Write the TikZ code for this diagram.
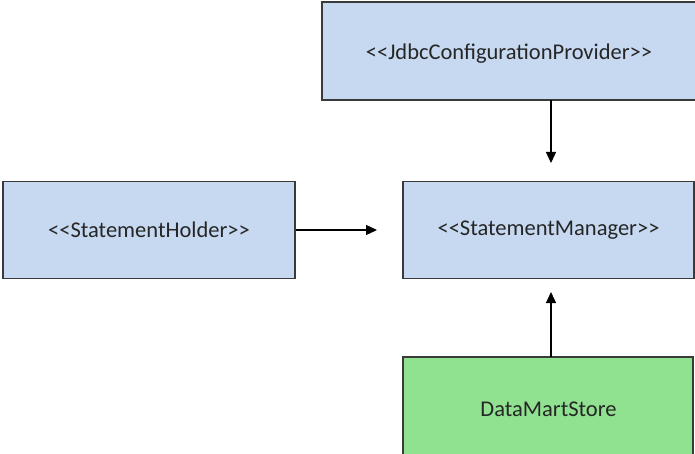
\documentclass[tikz,border=0pt]{standalone}
\usepackage{fontspec}
\setmainfont{Carlito}
\usetikzlibrary{arrows.meta}
\definecolor{boxblue}{HTML}{C6D9F0}
\definecolor{boxgreen}{HTML}{90E190}
\definecolor{edge}{HTML}{3A3A3A}
\begin{document}
\begin{tikzpicture}[x=1pt,y=-1pt,
  lbl/.style={font=\fontsize{22.5}{26}\selectfont,text=black!85},
  box/.style={draw=edge,line width=1.6pt,inner sep=0pt,lbl},
  conn/.style={line width=1.3pt,-{Triangle[length=11pt,width=10pt]}}]
\useasboundingbox (0,0) rectangle (695,454);
\clip (0,0) rectangle (695,454);
\draw[box,fill=boxblue] (322,2) rectangle (697,100);
\node[lbl] (jdbc) at (509,54) {<{}<JdbcConfigurationProvider>{}>};
\coordinate (jdbcb) at (551,100);
\node[box,fill=boxblue,minimum width=292pt,minimum height=97pt] (holder) at (149,230) {\raisebox{-3pt}{<{}<StatementHolder>{}>}};
\node[box,fill=boxblue,minimum width=291pt,minimum height=97pt] (mgr) at (548.5,230) {\raisebox{-3pt}{<{}<StatementManager>{}>}};
\draw[box,fill=boxgreen] (403,357) rectangle (693,460);
\node[lbl] (dms) at (548.5,409) {DataMartStore};
\coordinate (dmst) at (551,357);
\coordinate (mgrtop) at (551,163);
\coordinate (mgrleft) at (377,230);
\coordinate (mgrbot) at (551,292);
\draw[conn] (jdbcb) -- (mgrtop);
\draw[conn] (holder.east) -- (mgrleft);
\draw[conn] (dmst) -- (mgrbot);
\end{tikzpicture}
\end{document}
